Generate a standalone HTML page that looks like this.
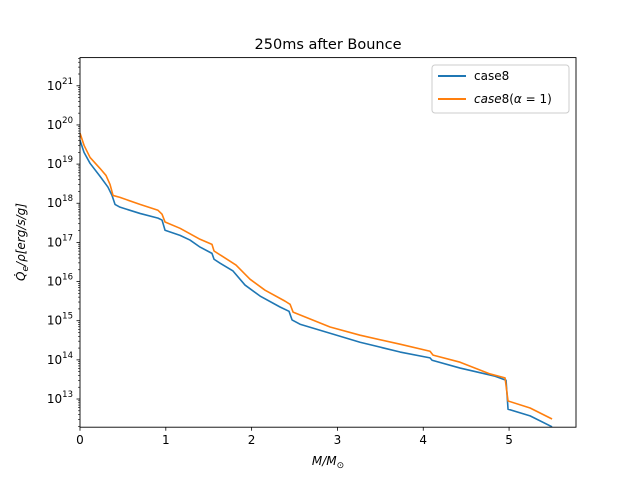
<!DOCTYPE html>
<html><head><meta charset="utf-8"><style>body{margin:0;background:#fff}svg{display:block;font-family:"DejaVu Sans","Liberation Sans",sans-serif}</style></head>
<body>
<svg id="chart" width="640" height="480">
<defs><clipPath id="clip"><rect x="80" y="57.6" width="496" height="369.6"/></clipPath></defs>
<rect x="0" y="0" width="640" height="480" fill="#fff"/>
<text x="328" y="49" text-anchor="middle" font-size="14.5">250ms after Bounce</text>
<g id="axes"></g>
<g id="series" clip-path="url(#clip)"></g>
<rect x="80" y="57.6" width="496" height="369.6" fill="none" stroke="#000" stroke-width="0.9"/>
<text x="328" y="465" text-anchor="middle" font-size="12" font-style="italic">M/M<tspan font-size="9" dy="3">⊙</tspan></text>
<text transform="translate(25,242) rotate(-90)" text-anchor="middle" font-size="12" font-style="italic">Q̇<tspan font-size="9" dy="3">e</tspan><tspan dy="-3">/ρ[erg/s/g]</tspan></text>
<g>
<rect x="432" y="65" width="137" height="48" rx="3" fill="#fff" stroke="#ccc" stroke-width="1"/>
<line x1="438" y1="76" x2="466" y2="76" stroke="#1f77b4" stroke-width="2"/>
<text x="474" y="80" font-size="12">case8</text>
<line x1="438" y1="99" x2="466" y2="99" stroke="#ff7f0e" stroke-width="2"/>
<text x="474" y="103" font-size="12"><tspan font-style="italic">case</tspan>8(<tspan font-style="italic">α</tspan> = 1)</text>
</g>
</svg>
<script>
const xTicks=[0,1,2,3,4,5];
const yDecades=[13,14,15,16,17,18,19,20,21];
const massBlue=[0,0.047,0.117,0.233,0.303,0.326,0.373,0.408,0.466,0.699,0.909,0.956,0.991,1.166,1.282,1.399,1.538,1.562,1.632,1.783,1.923,2.098,2.331,2.436,2.471,2.564,2.914,3.263,3.730,4.079,4.103,4.429,4.825,4.965,4.988,5.245,5.501];
const logQBlue=[19.61,19.30,19.02,18.69,18.48,18.41,18.20,17.97,17.90,17.74,17.62,17.57,17.31,17.18,17.06,16.88,16.72,16.57,16.47,16.27,15.91,15.63,15.35,15.24,15.02,14.91,14.68,14.45,14.20,14.05,13.99,13.79,13.59,13.48,12.74,12.57,12.29];
const massOrange=[0,0.047,0.117,0.233,0.303,0.350,0.385,0.466,0.699,0.909,0.956,0.991,1.166,1.399,1.538,1.562,1.655,1.818,1.981,2.156,2.389,2.448,2.483,2.914,3.263,3.730,4.079,4.114,4.429,4.779,4.953,4.988,5.245,5.501];
const logQOrange=[19.79,19.48,19.17,18.89,18.71,18.48,18.20,18.15,17.97,17.82,17.72,17.52,17.36,17.08,16.95,16.78,16.65,16.42,16.06,15.78,15.50,15.42,15.22,14.84,14.63,14.40,14.22,14.12,13.94,13.64,13.54,12.95,12.77,12.49];

const X0=80,X1=576,Y0=427.2,Y1=57.6;
const xMin=0,xMax=5.78,lMin=12.28,lMax=21.72;
const sx=v=>X0+(v-xMin)/(xMax-xMin)*(X1-X0);
const sy=l=>Y0-(l-lMin)/(lMax-lMin)*(Y0-Y1);
const NS="http://www.w3.org/2000/svg";
const axes=document.getElementById('axes');
function mk(tag,attrs,parent){const e=document.createElementNS(NS,tag);for(const k in attrs)e.setAttribute(k,attrs[k]);parent.appendChild(e);return e;}
xTicks.forEach(t=>{
  const x=sx(t);
  const l=mk('line',{x1:x,x2:x,y1:Y0,y2:Y0+3.5,stroke:'#000','stroke-width':0.8},axes);
  
  
  const tx=mk('text',{x:x,y:Y0+17,'text-anchor':'middle','font-size':12},axes);
  tx.textContent=t;
  
  
});
for(let d=12;d<=21;d++){
  for(let m=2;m<=9;m++){
    const l=d+Math.log10(m);
    if(l<lMin||l>lMax)continue;
    const y=sy(l);
    const mt=mk('line',{x1:X0-2,x2:X0,y1:y,y2:y,stroke:'#000','stroke-width':0.6},axes);
    
    
  }
}
yDecades.forEach(d=>{
  const y=sy(d);
  const l=mk('line',{x1:X0-3.5,x2:X0,y1:y,y2:y,stroke:'#000','stroke-width':0.8},axes);
  
  
  const tx=mk('text',{x:X0-7,y:y+4,'text-anchor':'end','font-size':12},axes);
  tx.innerHTML='10<tspan font-size="8.5" dy="-6">'+d+'</tspan>';
  
  
});
const ser=document.getElementById('series');
function line(xs,ls,color,name){
  const d=xs.map((v,i)=>(i?'L':'M')+sx(v).toFixed(2)+','+sy(ls[i]).toFixed(2)).join('');
  const p=mk('path',{d:d,fill:'none',stroke:color,'stroke-width':1.6,'stroke-linejoin':'round'},ser);
  
  
}
line(massBlue,logQBlue,'#1f77b4','line-case8');
line(massOrange,logQOrange,'#ff7f0e','line-case8-alpha1');
</script>
</body></html>
